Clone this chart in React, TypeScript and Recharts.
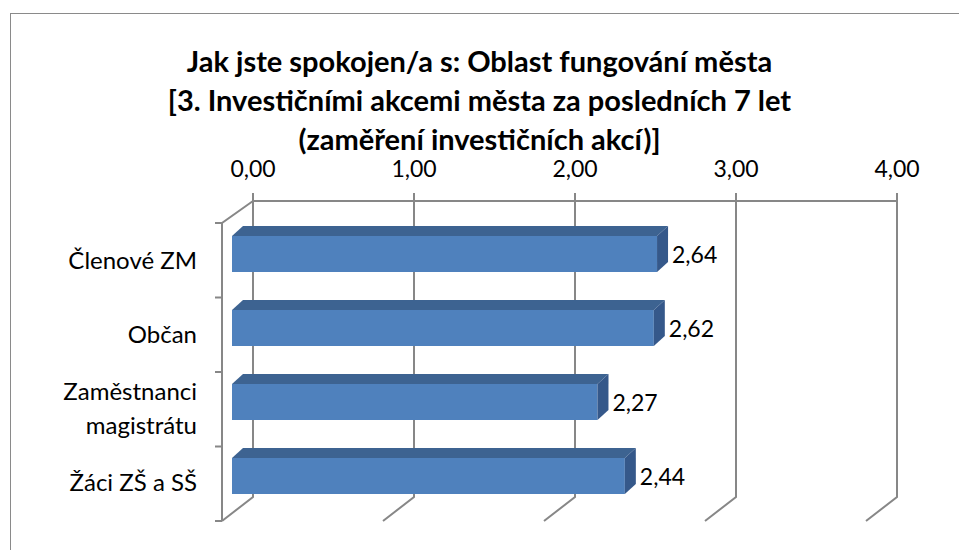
import React from "react"
import { BarChart, Bar, XAxis, YAxis, CartesianGrid, LabelList } from "recharts"

const categories = ["Členové ZM", "Občan", "Zaměstnanci magistrátu", "Žáci ZŠ a SŠ"]
const values = [2.64, 2.62, 2.27, 2.44]
const xTicks = [0, 1, 2, 3, 4]
const titleLines = [
  "Jak jste spokojen/a s: Oblast fungování města",
  "[3. Investičními akcemi města za posledních 7 let",
  "(zaměření investičních akcí)]",
]

const data = categories.map((name, i) => ({ name, value: values[i] }))

const FONT = "Lato, 'Open Sans', sans-serif"
const GRID = "#878787"
// 3D depth: floor shift of the back wall to the front
const DX = -31
const DY = 24
// bar front face shift from back wall
const BX = -21
const BY = 16
// bar depth
const DEPTH_X = 11
const DEPTH_Y = 10

const fmt = (v: number) => v.toFixed(2).replace(".", ",")

function Bar3D(props: any) {
  const { x, y, width, height } = props
  const fx = x + BX
  const fy = y + BY
  return (
    <g>
      <rect x={fx} y={fy} width={width} height={height} fill="#4F81BD" />
      <polygon
        points={`${fx},${fy} ${fx + DEPTH_X},${fy - DEPTH_Y} ${fx + width + DEPTH_X},${fy - DEPTH_Y} ${fx + width},${fy}`}
        fill="#3D6391"
      />
      <polygon
        points={`${fx + width},${fy} ${fx + width + DEPTH_X},${fy - DEPTH_Y} ${fx + width + DEPTH_X},${fy - DEPTH_Y + height} ${fx + width},${fy + height}`}
        fill="#35588A"
      />
    </g>
  )
}

function GridLine(props: any) {
  const { x1, y1, y2, index } = props
  return (
    <g key={`g-${index}`}>
      <polyline
        points={`${x1},${y1 - 8} ${x1},${y2} ${x1 + DX},${y2 + DY}`}
        fill="none"
        stroke={GRID}
        strokeWidth={2}
      />
      {index === 0 && (
        <g>
          <polyline
            points={`${x1},${y1} ${x1 + DX},${y1 + DY - 2} ${x1 + DX},${y2 + DY}`}
            fill="none"
            stroke={GRID}
            strokeWidth={2}
          />
          {Array.from({ length: categories.length + 1 }).map((_, i) => {
            const yy = y1 + DY - 2 + (i * (y2 + 2 - y1)) / categories.length
            return (
              <line
                key={i}
                x1={x1 + DX - 7}
                x2={x1 + DX}
                y1={yy}
                y2={yy}
                stroke={GRID}
                strokeWidth={2}
              />
            )
          })}
        </g>
      )}
    </g>
  )
}

function YTick(props: any) {
  const { y, payload } = props
  const label: string = payload.value
  const lines = label === "Zaměstnanci magistrátu" ? ["Zaměstnanci", "magistrátu"] : [label]
  const base = y + 31 - ((lines.length - 1) * 34) / 2
  return (
    <text textAnchor="end" fontFamily={FONT} fontSize={24} fill="#000">
      {lines.map((l, i) => (
        <tspan key={i} x={197} y={base + i * 34}>
          {l}
        </tspan>
      ))}
    </text>
  )
}

function XTick(props: any) {
  const { x, payload } = props
  return (
    <text x={x} y={177} textAnchor="middle" fontFamily={FONT} fontSize={23} fill="#000">
      {fmt(payload.value)}
    </text>
  )
}

function ValueLabel(props: any) {
  const { x, y, width, height, value } = props
  return (
    <text
      x={x + width + BX + 15}
      y={y + BY + height / 2 + 9}
      fontFamily={FONT}
      fontSize={23}
      fill="#000"
    >
      {fmt(value)}
    </text>
  )
}

export default function App() {
  return (
    <div
      style={{
        position: "absolute",
        left: 0,
        top: 0,
        width: 959,
        height: 550,
        overflow: "hidden",
        background: "#fff",
      }}
    >
      <div
        style={{
          position: "absolute",
          left: 10,
          top: 13,
          width: 1000,
          height: 600,
          border: "1.5px solid #8a8a8a",
        }}
      />
      <div
        style={{
          position: "absolute",
          left: 0,
          top: 41,
          width: 959,
          textAlign: "center",
          fontFamily: FONT,
          fontWeight: "bold",
          fontSize: 29,
          lineHeight: "39px",
          color: "#000",
        }}
      >
        {titleLines.map((t) => (
          <div key={t}>{t}</div>
        ))}
      </div>
      <div style={{ position: "absolute", left: 0, top: 0 }}>
        <BarChart
          width={959}
          height={550}
          data={data}
          layout="vertical"
          margin={{ top: 161, right: 62, bottom: 53, left: 53 }}
          barSize={36}
        >
          <CartesianGrid horizontal={false} vertical={GridLine as any} />
          <XAxis
            type="number"
            orientation="top"
            domain={[0, 4]}
            ticks={xTicks}
            height={40}
            axisLine={{ stroke: GRID, strokeWidth: 2 }}
            tickLine={false}
            tick={XTick}
          />
          <YAxis
            type="category"
            dataKey="name"
            width={200}
            axisLine={false}
            tickLine={false}
            tick={YTick}
          />
          <Bar dataKey="value" shape={Bar3D} isAnimationActive={false}>
            <LabelList dataKey="value" content={ValueLabel} />
          </Bar>
        </BarChart>
      </div>
    </div>
  )
}
